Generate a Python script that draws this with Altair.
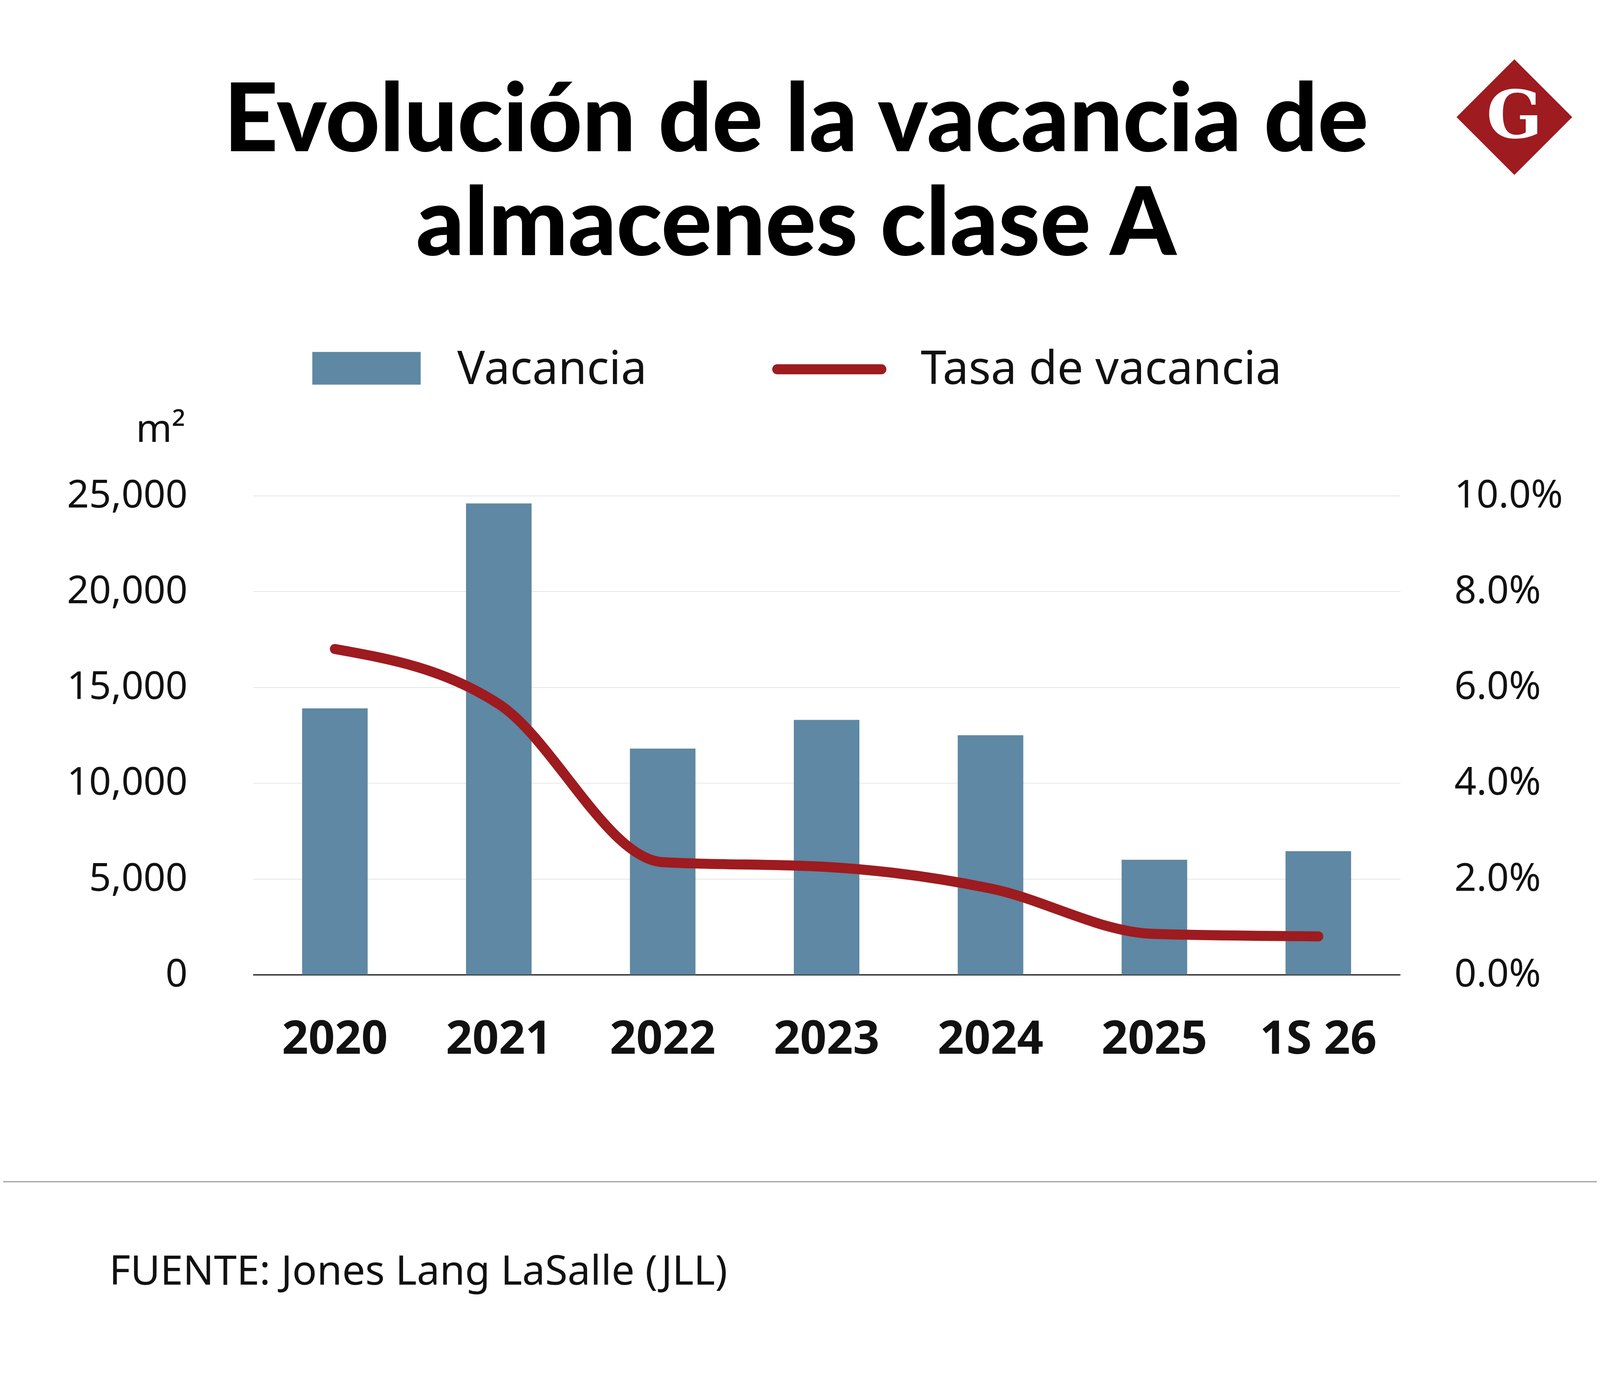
import altair as alt
import pandas as pd

periods = ["2020", "2021", "2022", "2023", "2024", "2025", "1S 26"]
vacancia = [13900, 24600, 11800, 13300, 12500, 6000, 6450]
tasa = [0.068, 0.0565, 0.0235, 0.0225, 0.018, 0.0085, 0.008]

df = pd.DataFrame({"periodo": periods, "vacancia": vacancia, "tasa": tasa})

W, H = 2976, 1242
RED = "#9e1b20"
BLUE = "#5e88a3"
FONT = "Noto Sans"

x = alt.X("periodo:N", sort=periods, title=None,
          scale=alt.Scale(paddingInner=0.6, paddingOuter=0.3),
          axis=alt.Axis(labelAngle=0, labelFontSize=120, labelFontWeight="bold",
                        labelColor="#111", labelPadding=110, ticks=False, labelLimit=0,
                        domainColor="#000", domainWidth=3, labelFont=FONT))

bars = alt.Chart(df).mark_bar(color=BLUE).encode(
    x=x,
    y=alt.Y("vacancia:Q", title=None, scale=alt.Scale(domain=[0, 25000]),
            axis=alt.Axis(values=[0, 5000, 10000, 15000, 20000, 25000], format=",.0f",
                          labelFontSize=100, labelPadding=170, ticks=False, domain=False,
                          labelLimit=0, gridColor="#e4e4e4", gridWidth=2,
                          labelColor="#111", labelFont=FONT))
)

line = alt.Chart(df).mark_line(color=RED, strokeWidth=26, interpolate="monotone",
                               strokeCap="round").encode(
    x=x,
    y=alt.Y("tasa:Q", title=None, scale=alt.Scale(domain=[0, 0.10]),
            axis=alt.Axis(orient="right", values=[0, 0.02, 0.04, 0.06, 0.08, 0.10],
                          format=".1%", labelFontSize=100, labelPadding=140, ticks=False,
                          labelLimit=0, domain=False, grid=False, labelColor="#111",
                          labelFont=FONT))
)

def txt(s, xv, yv, size, weight="normal", align="left", font=FONT, color="#111"):
    return alt.Chart(pd.DataFrame({"t": [s]})).mark_text(
        fontSize=size, fontWeight=weight, align=align, baseline="alphabetic",
        font=font, color=color).encode(text="t:N", x=alt.value(xv), y=alt.value(yv))

deco = [
    txt("Evolución de la vacancia de", 1409, -894, 245, 900, "center", "Lato", "#000"),
    txt("almacenes clase A", 1409, -624, 245, 900, "center", "Lato", "#000"),
    alt.Chart(df.head(1)).mark_rect(color=BLUE).encode(
        x=alt.value(154), x2=alt.value(435), y=alt.value(-373), y2=alt.value(-288)),
    txt("Vacancia", 530, -290, 120),
    alt.Chart(df.head(1)).mark_rule(color=RED, strokeWidth=26, strokeCap="round").encode(
        x=alt.value(1360), x2=alt.value(1630), y=alt.value(-328)),
    txt("Tasa de vacancia", 1732, -290, 120),
    txt("m²", -175, -140, 100, align="right"),
    alt.Chart(df.head(1)).mark_rule(color="#999", strokeWidth=3).encode(
        x=alt.value(-656), x2=alt.value(3500), y=alt.value(1779)),
    txt("FUENTE: Jones Lang LaSalle (JLL)", -373, 2046, 106),
    alt.Chart(df.head(1)).mark_point(shape="diamond", filled=True, color=RED, size=90000,
                                     opacity=1).encode(x=alt.value(3272), y=alt.value(-982)),
    txt("G", 3272, -928, 170, "bold", "center", "DejaVu Serif", "white"),
]

chart = alt.layer(bars, line, *deco).resolve_scale(y="independent").properties(
    width=W, height=H, background="white",
    autosize=alt.AutoSizeParams(type="none"),
    padding={"left": 648, "top": 1254, "right": 510, "bottom": 1061},
).configure_view(stroke=None)

chart.save("out.html", embed_options={"renderer": "svg", "actions": False})
